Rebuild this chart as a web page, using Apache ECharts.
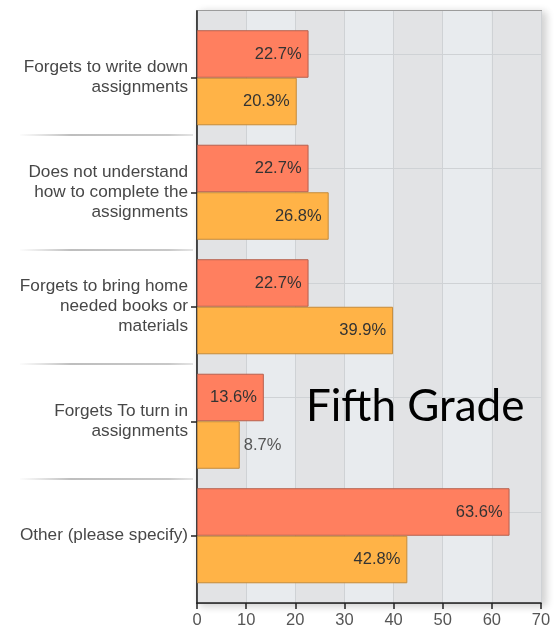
<!DOCTYPE html>
<html>
<head>
<meta charset="utf-8">
<script src="https://cdn.jsdelivr.net/npm/echarts@6/dist/echarts.min.js"></script>
<style>
html,body{margin:0;padding:0;background:#fff;}
#main{width:556px;height:641px;}
</style>
</head>
<body>
<div id="main"></div>
<script>
var categories = [
  'Forgets to write down\nassignments',
  'Does not understand\nhow to complete the\nassignments',
  'Forgets to bring home\nneeded books or\nmaterials',
  'Forgets To turn in\nassignments',
  'Other (please specify)'
];
var redValues = [22.7, 22.7, 22.7, 13.6, 63.6];
var orangeValues = [20.3, 26.8, 39.9, 8.7, 42.8];
var xTicks = [0, 10, 20, 30, 40, 50, 60, 70];
var titleText = 'Fifth Grade';

var FONT = '"Liberation Sans", Arial, sans-serif';
var chart = echarts.init(document.getElementById('main'), null, {renderer: 'canvas'});

var orangeData = orangeValues.map(function (v) {
  if (v < 12) {
    return {value: v, label: {position: 'right', distance: 4, color: '#555'}};
  }
  return v;
});

var option = {
  animation: false,
  backgroundColor: '#fff',
  grid: [
    {left: 197, top: 11, width: 344, height: 592, show: true,
     backgroundColor: '#e4e5e7', borderColor: '#9c9c9c', borderWidth: 2,
     shadowBlur: 8, shadowColor: 'rgba(0,0,0,0.18)', shadowOffsetX: 4, shadowOffsetY: 2},
    {left: 197, top: 20.5, width: 344, height: 572.5},
    {left: 20, top: 20.5, width: 173, height: 572.5}
  ],
  xAxis: [
    {gridIndex: 0, type: 'value', min: xTicks[0], max: xTicks[xTicks.length - 1], interval: 10,
     axisLine: {show: true, lineStyle: {color: '#222', width: 1.5}},
     axisTick: {show: true, length: 6, lineStyle: {color: '#222', width: 1.5}},
     axisLabel: {fontSize: 16.5, color: '#555', margin: 9, fontFamily: FONT},
     splitLine: {show: true, lineStyle: {color: '#cfd2d5', width: 1}},
     splitArea: {show: true, areaStyle: {color: ['#e2e3e5', '#e8ebee']}}},
    {gridIndex: 1, type: 'value', min: 0, max: 70, show: false},
    {gridIndex: 2, type: 'value', min: 0, max: 1, show: false}
  ],
  yAxis: [
    {gridIndex: 0, type: 'value', min: 0, max: 1,
     axisLine: {show: true, lineStyle: {color: '#222', width: 1.5}},
     axisTick: {show: false}, axisLabel: {show: false},
     splitLine: {show: false}, splitArea: {show: false}},
    {gridIndex: 1, type: 'category', inverse: true, data: categories,
     axisLine: {show: false},
     axisTick: {show: true, alignWithLabel: true, length: 6, lineStyle: {color: '#222', width: 1.5}},
     axisLabel: {fontSize: 17.2, color: '#474747', lineHeight: 20, margin: 9, fontFamily: FONT, align: 'right'},
     splitLine: {show: false}},
    {gridIndex: 2, type: 'category', inverse: true, data: categories,
     axisLine: {show: false}, axisTick: {show: false}, axisLabel: {show: false},
     splitLine: {show: true, showMinLine: false, showMaxLine: false,
       lineStyle: {width: 2, color: new echarts.graphic.LinearGradient(0, 0, 1, 0, [
         {offset: 0, color: 'rgba(200,200,200,0)'},
         {offset: 0.3, color: 'rgba(190,190,190,1)'},
         {offset: 0.85, color: 'rgba(200,200,200,1)'},
         {offset: 1, color: 'rgba(215,215,215,0.6)'}
       ])}}}
  ],
  series: [
    {type: 'bar', name: 'red', xAxisIndex: 1, yAxisIndex: 1, data: redValues, z: 2,
     barGap: '0%', barCategoryGap: '17%',
     itemStyle: {color: '#ff7f5f', borderColor: '#b7604e', borderWidth: 1},
     label: {show: true, position: 'insideRight', distance: 7, formatter: '{c}%',
             color: '#333', fontSize: 16.5, fontFamily: FONT},
     markLine: {silent: true, symbol: 'none', z: 1, animation: false,
       label: {show: false},
       lineStyle: {color: '#cfd2d5', width: 1, type: 'solid'},
       data: categories.map(function (c) { return {yAxis: c}; })}},
    {type: 'bar', name: 'orange', xAxisIndex: 1, yAxisIndex: 1, data: orangeData, z: 2,
     barGap: '0%', barCategoryGap: '17%',
     itemStyle: {color: '#ffb347', borderColor: '#c58b3a', borderWidth: 1},
     label: {show: true, position: 'insideRight', distance: 7, formatter: '{c}%',
             color: '#333', fontSize: 16.5, fontFamily: FONT}}
  ],
  graphic: [
    {type: 'text', x: 306, y: 407, z: 10,
     style: {text: titleText, font: '44px Lato, "Noto Sans", sans-serif', fill: '#000',
             verticalAlign: 'middle', align: 'left'}}
  ]
};
chart.setOption(option);
</script>
</body>
</html>
